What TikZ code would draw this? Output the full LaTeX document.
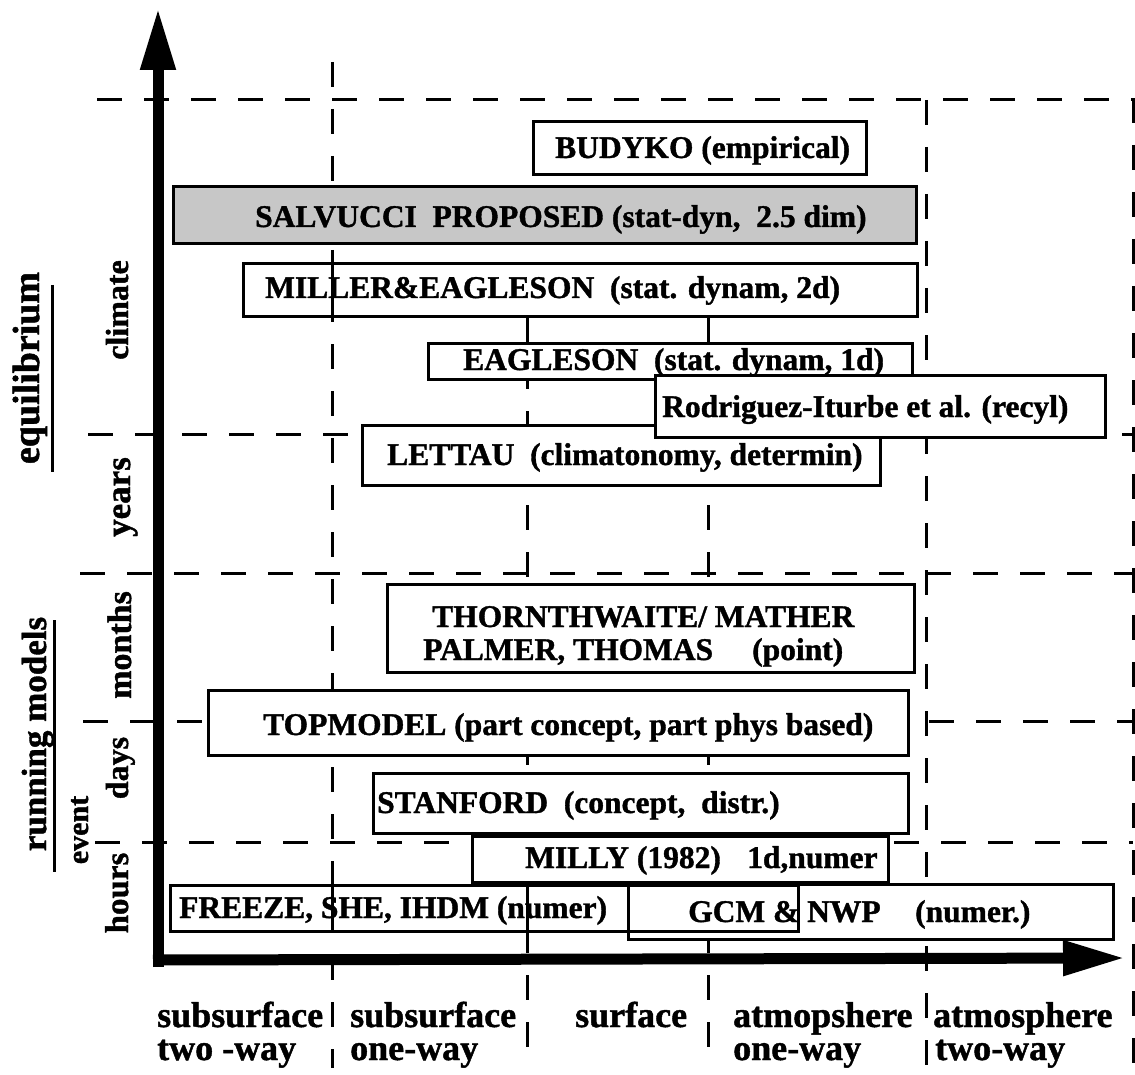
\documentclass[tikz,border=0pt]{standalone}
\usepackage{fontspec}
\setmainfont{Liberation Serif}[BoldFeatures={FakeBold=1.2}]
\usetikzlibrary{arrows.meta,fit}
\begin{document}
\begin{tikzpicture}[x=1pt,y=-1pt,
  box/.style={draw, line width=3pt, fill=white, inner sep=0pt},
  shadebox/.style={box, fill=black!22},
  openbox/.style={draw, line width=3pt, inner sep=0pt},
  boxtxt/.style={font=\fontsize{31.5}{36}\selectfont\bfseries, inner sep=0pt, anchor=base west},
  axtxt/.style={font=\fontsize{36}{40}\selectfont\bfseries, inner sep=0pt, anchor=base west},
  sidetxt/.style={rotate=90, inner sep=0pt, anchor=base, font=\fontsize{32}{36}\selectfont\bfseries},
  gridline/.style={line width=3pt, dash pattern=on 25pt off 22pt},
  thru/.style={line width=3pt},
  axisline/.style={line width=11pt, -{Triangle[length=62pt,width=33pt]}}]
\useasboundingbox[fill=white] (0,0) rectangle (1135,1075);

% grid of dashed lines
\draw[gridline] (97,100) -- (1133,100) -- (1133,1073);
\draw[gridline] (88,434) -- (1133,434);
\draw[gridline] (80,573) -- (1133,573);
\draw[gridline] (83,721) -- (1133,721);
\draw[gridline] (95,842) -- (1133,842);
\draw[gridline] (332,62) -- (332,1068);
\draw[gridline] (527,317) -- (527,1068);
\draw[gridline] (708,317) -- (708,1068);
\draw[gridline] (926,100) -- (926,1068);

% boxes
\node[box, fit={(533,122) (866,175)}] (budyko) {};
\node[shadebox, fit={(173,187) (916,244)}] (salv) {};
\node[box, fit={(243,264) (917,317)}] (miller) {};
\node[box, fit={(428,343) (912,379)}] (eagle) {};
\node[box, fit={(362,425) (880,485)}] (lettau) {};
\node[box, fit={(655,375) (1105,437)}] (rodr) {};
\node[box, fit={(387,584) (914,672)}] (thorn) {};
\node[box, fit={(208,690) (908,755)}] (topm) {};
\node[box, fit={(373,773) (908,833)}] (stanf) {};
\node[box, fit={(472,836) (888,882)}] (milly) {};
\node[box, fit={(628,884) (1113,939)}] (gcm) {};
\node[openbox, fit={(170,885) (798,931)}] (freeze) {};

% grid lines seen through boxes
\draw[thru] (332,264) -- (332,317);
\draw[thru] (332,885) -- (332,931);
\draw[thru] (527,885) -- (527,931);

% box texts
\node[boxtxt] (tbudyko) at (555,158) {BUDYKO (empirical)};
\node[boxtxt] (tsalv) at (255,227) {SALVUCCI\ \ PROPOSED (stat-dyn,\ \ 2.5 dim)};
\node[boxtxt] (tmiller) at (265,298) {MILLER\&EAGLESON\ \ (stat. dynam, 2d)};
\node[boxtxt] (teagle) at (463,370) {EAGLESON\ \ (stat. dynam, 1d)};
\node[boxtxt] (trodr) at (662,417) {Rodriguez-Iturbe et al. (recyl)};
\node[boxtxt] (tlettau) at (387,465) {LETTAU\ \ (climatonomy, determin)};
\node[boxtxt] (tthorn) at (432,627) {THORNTHWAITE/ MATHER};
\node[boxtxt] (tpalmer) at (423,660) {PALMER, THOMAS};
\node[boxtxt] (tpoint) at (752,660) {(point)};
\node[boxtxt] (ttopm) at (263,735) {TOPMODEL (part concept, part phys based)};
\node[boxtxt] (tstanf) at (377,813) {STANFORD\ \ (concept,\ \ distr.)};
\node[boxtxt] (tmilly) at (525,868) {MILLY (1982)};
\node[boxtxt] (tmilly2) at (747,868) {1d,numer};
\node[boxtxt] (tfreeze) at (179,918) {FREEZE, SHE, IHDM (numer)};
\node[boxtxt] (tgcm) at (688,922) {GCM \& NWP};
\node[boxtxt] (tgcm2) at (915,922) {(numer.)};

% axes
\coordinate (ybase) at (158,967);
\coordinate (ytip) at (158,8);
\coordinate (xbase) at (153,960);
\coordinate (xtip) at (1125,958);
\draw[axisline] (ybase) -- (ytip);
\draw[axisline] (xbase) -- (xtip);

% bottom labels
\node[axtxt] (l1a) at (157,1027) {subsurface};
\node[axtxt] (l1b) at (157,1060) {two -way};
\node[axtxt] (l2a) at (350,1027) {subsurface};
\node[axtxt] (l2b) at (350,1060) {one-way};
\node[axtxt] (l3a) at (575,1027) {surface};
\node[axtxt] (l4a) at (733,1027) {atmopshere};
\node[axtxt] (l4b) at (733,1060) {one-way};
\node[axtxt] (l5a) at (933,1027) {atmosphere};
\node[axtxt] (l5b) at (935,1060) {two-way};

% side labels
\node[sidetxt, font=\fontsize{38}{42}\selectfont\bfseries] (equil) at (39,368) {equilibrium};
\draw[line width=3pt] (52,285) -- (52,472);
\node[sidetxt, font=\fontsize{35}{40}\selectfont\bfseries] (running) at (46,734) {running models};
\draw[line width=3pt] (54,620) -- (54,872);
\node[sidetxt, font=\fontsize{30}{34}\selectfont\bfseries] (event) at (88,830) {event};
\node[sidetxt, font=\fontsize{32}{36}\selectfont\bfseries] (climate) at (128,310) {climate};
\node[sidetxt, font=\fontsize{35}{39}\selectfont\bfseries] (years) at (130,497) {years};
\node[sidetxt, font=\fontsize{34}{38}\selectfont\bfseries] (months) at (131,645) {months};
\node[sidetxt, font=\fontsize{32}{36}\selectfont\bfseries] (days) at (128,768) {days};
\node[sidetxt, font=\fontsize{33}{37}\selectfont\bfseries] (hours) at (128,893) {hours};
\end{tikzpicture}
\end{document}
